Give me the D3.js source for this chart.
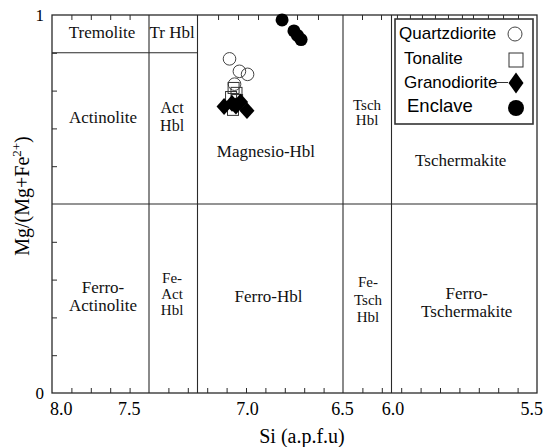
<!DOCTYPE html>
<html>
<head>
<meta charset="utf-8">
<script src="https://cdn.jsdelivr.net/npm/d3@7"></script>
<style>
  html, body { margin: 0; padding: 0; background: #fff; }
  svg { display: block; }
</style>
</head>
<body>
<svg id="chart" width="544" height="447"></svg>
<script>
// Amphibole classification (Leake 1997): Si (a.p.f.u) vs Mg/(Mg+Fe2+)

// Quartzdiorite (open circles)
const qzdSi = [7.085, 7.034, 6.992, 7.059];
const qzdMg = [0.884, 0.851, 0.843, 0.817];
// Tonalite (open squares)
const tonSi = [7.064, 7.049, 7.077, 7.046, 7.067];
const tonMg = [0.807, 0.794, 0.783, 0.775, 0.749];
// Granodiorite (filled diamonds)
const grdSi = [7.113, 7.072, 7.028, 6.995, 7.052];
const grdMg = [0.758, 0.766, 0.770, 0.747, 0.759];
// Enclave (filled circles)
const encSi = [6.814, 6.753, 6.735, 6.716];
const encMg = [0.987, 0.958, 0.946, 0.935];

// Axis labels and where they sit along Si
const siTickLabels = ["8.0", "7.5", "7.0", "6.5", "6.0", "5.5"];
const siTickAt = [7.955, 7.605, 6.995, 6.505, 6.245, 5.53];
const mgTickLabels = ["0", "1"];
const mgTickAt = [0, 1];

// Minor tick marks
const siMinorBottom = [7.9, 7.8, 7.7, 7.6, 7.4, 7.3, 7.2, 7.1, 7.0, 6.9, 6.8, 6.7, 6.6,
                       6.4, 6.3, 6.2, 6.1, 6.0, 5.9, 5.8, 5.7, 5.6];
const siMinorTop = [7.9, 7.8, 7.7, 7.6, 7.144, 7.041, 6.938, 6.835, 6.737, 6.629,
                    6.402, 6.304, 6.222, 6.155, 6.093, 6.026, 5.959, 5.887, 5.830,
                    5.753, 5.675, 5.598];
const mgMinor = [0.1, 0.2, 0.3, 0.4, 0.6, 0.7, 0.8, 0.9];

// Field boundaries
const siBoundaries = [7.5, 7.25, 6.5, 6.25];
const mgBoundary = 0.5;
const tremoliteMg = 0.9;
const tremoliteSiEnd = 7.25;

// Field names: text lines, centre (Si, Mg), font size, line height
const fieldLines = [
  ["Tremolite"], ["Tr Hbl"], ["Actinolite"], ["Act", "Hbl"], ["Magnesio-Hbl"],
  ["Tsch", "Hbl"], ["Tschermakite"], ["Ferro-", "Actinolite"], ["Fe-", "Act", "Hbl"],
  ["Ferro-Hbl"], ["Fe-", "Tsch", "Hbl"], ["Ferro-", "Tschermakite"]
];
const fieldSi = [7.742, 7.381, 7.737, 7.381, 6.897, 6.376, 5.893, 7.737, 7.381, 6.884, 6.371, 5.862];
const fieldMg = [0.955, 0.955, 0.730, 0.733, 0.640, 0.743, 0.616, 0.257, 0.263, 0.257, 0.247, 0.241];
const fieldSize = [17, 17, 17, 16, 17, 15, 17, 17, 15, 17, 15, 17];
const fieldLead = [18, 18, 18, 18, 18, 15, 18, 18, 16, 18, 17.5, 18];

const svg = d3.select("#chart");
const margin = { left: 52, top: 15, right: 7, bottom: 54 };
const W = 544 - margin.left - margin.right;
const H = 447 - margin.top - margin.bottom;

const x = d3.scaleLinear().domain([8.0, 5.5]).range([0, W]);
const y = d3.scaleLinear().domain([0, 1]).range([H, 0]);

const g = svg.append("g").attr("transform", `translate(${margin.left},${margin.top})`);

const serif = "'Liberation Serif', 'Times New Roman', serif";
const sans = "'Liberation Sans', Arial, sans-serif";
const lineCol = "#2a2a2a";

// Minor ticks, pointing inwards
g.append("g").attr("transform", `translate(0,${H})`)
  .call(d3.axisBottom(x).tickValues(siMinorBottom).tickSizeInner(-5).tickSizeOuter(0).tickFormat(""))
  .call(a => a.select(".domain").remove())
  .call(a => a.selectAll("line").attr("stroke", lineCol));
g.append("g")
  .call(d3.axisTop(x).tickValues(siMinorTop).tickSizeInner(-5).tickSizeOuter(0).tickFormat(""))
  .call(a => a.select(".domain").remove())
  .call(a => a.selectAll("line").attr("stroke", lineCol));
g.append("g")
  .call(d3.axisLeft(y).tickValues(mgMinor).tickSizeInner(-5).tickSizeOuter(0).tickFormat(""))
  .call(a => a.select(".domain").remove())
  .call(a => a.selectAll("line").attr("stroke", lineCol));

// Tick labels
g.append("g").attr("transform", `translate(0,${H})`)
  .call(d3.axisBottom(x).tickValues(siTickAt).tickSize(0).tickPadding(9)
    .tickFormat((d, i) => siTickLabels[i]))
  .call(a => a.select(".domain").remove())
  .call(a => a.selectAll("text").attr("font-family", serif).attr("font-size", 18).attr("fill", "#000"));
g.append("g")
  .call(d3.axisLeft(y).tickValues(mgTickAt).tickSize(0).tickPadding(8)
    .tickFormat((d, i) => mgTickLabels[i]))
  .call(a => a.select(".domain").remove())
  .call(a => a.selectAll("text").attr("font-family", serif).attr("font-size", 17).attr("fill", "#000"));

// Frame
g.append("rect")
  .attr("x", x(8.0)).attr("y", y(1))
  .attr("width", x(5.5) - x(8.0)).attr("height", y(0) - y(1))
  .attr("fill", "none").attr("stroke", lineCol).attr("stroke-width", 1.3);

// Field boundaries
g.selectAll("line.vb").data(siBoundaries).join("line")
  .attr("class", "vb")
  .attr("x1", d => x(d)).attr("x2", d => x(d))
  .attr("y1", y(1)).attr("y2", y(0))
  .attr("stroke", lineCol).attr("stroke-width", 1.1);
g.append("line")
  .attr("x1", x(8.0)).attr("x2", x(5.5))
  .attr("y1", y(mgBoundary)).attr("y2", y(mgBoundary))
  .attr("stroke", lineCol).attr("stroke-width", 1.1);
g.append("line")
  .attr("x1", x(8.0)).attr("x2", x(tremoliteSiEnd))
  .attr("y1", y(tremoliteMg)).attr("y2", y(tremoliteMg))
  .attr("stroke", lineCol).attr("stroke-width", 1.1);

// Field names
fieldLines.forEach((lines, k) => {
  const fs = fieldSize[k], lh = fieldLead[k];
  const t = g.append("text")
    .attr("font-family", serif).attr("font-size", fs).attr("fill", "#111")
    .attr("text-anchor", "middle");
  lines.forEach((ln, i) => {
    t.append("tspan")
      .attr("x", x(fieldSi[k]))
      .attr("y", y(fieldMg[k]) + (i - (lines.length - 1) / 2) * lh + 0.35 * fs)
      .text(ln);
  });
});

// Symbols
const diamond = {
  draw(ctx, size) {
    const w = Math.sqrt(size) * 0.5, h = w * 1.12;
    ctx.moveTo(0, -h); ctx.lineTo(w, 0); ctx.lineTo(0, h); ctx.lineTo(-w, 0); ctx.closePath();
  }
};
const pts = (si, mg) => si.map((s, i) => [s, mg[i]]);

g.selectAll("circle.qzd").data(pts(qzdSi, qzdMg)).join("circle")
  .attr("class", "qzd").attr("cx", d => x(d[0])).attr("cy", d => y(d[1])).attr("r", 6.3)
  .attr("fill", "none").attr("stroke", "#444").attr("stroke-width", 1);
g.selectAll("rect.ton").data(pts(tonSi, tonMg)).join("rect")
  .attr("class", "ton").attr("x", d => x(d[0]) - 5.5).attr("y", d => y(d[1]) - 5.5)
  .attr("width", 11).attr("height", 11)
  .attr("fill", "none").attr("stroke", "#333").attr("stroke-width", 1);
g.selectAll("path.grd").data(pts(grdSi, grdMg)).join("path")
  .attr("class", "grd").attr("transform", d => `translate(${x(d[0])},${y(d[1])})`)
  .attr("d", d3.symbol(diamond, 225)).attr("fill", "#000");
g.selectAll("circle.enc").data(pts(encSi, encMg)).join("circle")
  .attr("class", "enc").attr("cx", d => x(d[0])).attr("cy", d => y(d[1])).attr("r", 6.5)
  .attr("fill", "#000");

// Axis titles
svg.append("text")
  .attr("x", margin.left + x(7.0) + 56).attr("y", 443)
  .attr("text-anchor", "middle").attr("font-family", serif).attr("font-size", 20)
  .text("Si (a.p.f.u)");
const yt = svg.append("text")
  .attr("transform", "translate(29,196) rotate(-90)")
  .attr("text-anchor", "middle").attr("font-family", serif).attr("font-size", 20);
yt.append("tspan").text("Mg/(Mg+Fe");
yt.append("tspan").attr("font-size", 13).attr("dy", -8).text("2+");
yt.append("tspan").attr("dy", 8).text(")");

// Legend
const lg = svg.append("g").attr("font-family", sans).attr("fill", "#000");
lg.append("rect").attr("x", 395).attr("y", 19).attr("width", 138).attr("height", 105)
  .attr("fill", "#fff").attr("stroke", "#333").attr("stroke-width", 1.6);
lg.append("text").attr("x", 399).attr("y", 39).attr("font-size", 17).text("Quartzdiorite");
lg.append("circle").attr("cx", 515).attr("cy", 34).attr("r", 7)
  .attr("fill", "none").attr("stroke", "#444").attr("stroke-width", 1);
lg.append("text").attr("x", 404).attr("y", 64).attr("font-size", 17).text("Tonalite");
lg.append("rect").attr("x", 509).attr("y", 53).attr("width", 14).attr("height", 14)
  .attr("fill", "none").attr("stroke", "#333").attr("stroke-width", 1);
lg.append("text").attr("x", 404).attr("y", 88).attr("font-size", 17).text("Granodiorite");
lg.append("line").attr("x1", 494).attr("x2", 508).attr("y1", 82.5).attr("y2", 82.5)
  .attr("stroke", "#333").attr("stroke-width", 1);
lg.append("path").attr("transform", "translate(516,83)")
  .attr("d", "M0,-10.5L7.5,0L0,10.5L-7.5,0Z").attr("fill", "#000");
lg.append("text").attr("x", 407).attr("y", 112).attr("font-size", 18.5).text("Enclave");
lg.append("circle").attr("cx", 516).attr("cy", 108).attr("r", 8).attr("fill", "#000");
</script>
</body>
</html>
